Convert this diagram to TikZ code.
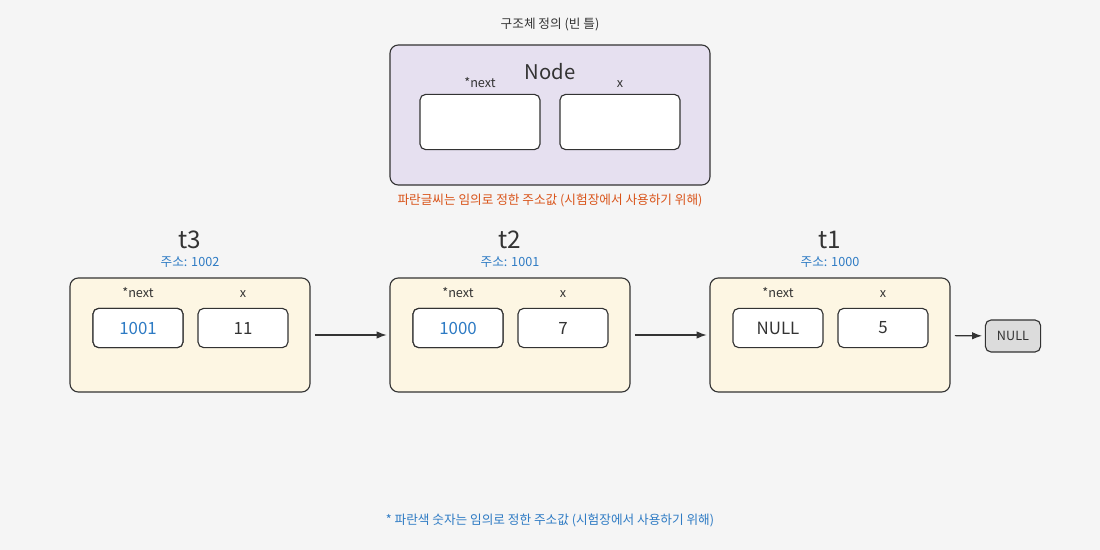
\documentclass[tikz,border=0pt]{standalone}
\usepackage{fontspec}
\setmainfont{Noto Sans CJK KR}
\usetikzlibrary{arrows.meta,positioning}
\definecolor{bgcol}{HTML}{F5F5F5}
\definecolor{defcol}{HTML}{E6E0F0}
\definecolor{listcol}{HTML}{FDF6E3}
\definecolor{addrcol}{HTML}{2E7BC4}
\definecolor{notecol}{HTML}{D9541A}
\definecolor{nullcol}{HTML}{DCDCDC}
\definecolor{linecol}{HTML}{333333}

\begin{document}
\begin{tikzpicture}[x=0.025cm, y=-0.025cm,
  every node/.style={font=\small, text=linecol},
  outer/.style={draw=linecol, line width=0.8pt, rounded corners=6pt, minimum width=6cm, minimum height=2.85cm},
  field/.style={draw=linecol, line width=0.8pt, fill=white, rounded corners=4pt, minimum width=2.25cm, minimum height=0.98cm, font=\large},
  addr/.style={text=addrcol},
  link/.style={-{Latex[length=2.5mm]}, draw=linecol, line width=0.8pt, shorten <=3pt, shorten >=2pt}]
% background
\fill[bgcol] (0,0) rectangle (1100,550);

% definition of the structure
\node (deftitle) at (550,25) {구조체 정의 (빈 틀)};
\node (def) [outer, fill=defcol, minimum width=8cm, minimum height=3.5cm] at (550,115) {};
\node (defname) at (550,72) {\Large Node};
\node (defnext) [field, minimum width=3cm, minimum height=1.38cm] at (480,122) {};
\node (defx)    [field, minimum width=3cm, minimum height=1.38cm] at (620,122) {};
\node [above=1pt of defnext] {*next};
\node [above=1pt of defx] {x};
\node (defnote) [text=notecol] at (550,200) {파란글씨는 임의로 정한 주소값 (시험장에서 사용하기 위해)};

% list nodes
\foreach \name/\cx/\addr/\nxt/\val in {t3/190/1002/1001/11, t2/510/1001/1000/7, t1/830/1000/NULL/5}{
  \node (\name) [outer, fill=listcol] at (\cx,335) {};
  \node (\name-title) at (\cx,240) {\LARGE \name};
  \node (\name-addr) [addr] at (\cx,262) {주소: \addr};
  \node (\name-next) [field] at (\cx-52,328) {\nxt};
  \node (\name-x)    [field] at (\cx+53,328) {\val};
  \node [above=4pt of \name-next] {*next};
  \node [above=4pt of \name-x] {x};
}
\node (t3n) [field, text=addrcol] at (t3-next) {1001};
\node (t2n) [field, text=addrcol] at (t2-next) {1000};

\node (null) [draw=linecol, line width=0.8pt, fill=nullcol, rounded corners=4pt, minimum width=1.38cm, minimum height=0.8cm] at (1013,336) {NULL};

\draw[link] (t3) -- (t2);
\draw[link] (t2) -- (t1);
\draw[link] (t1) -- (null);

\node (note) [addr] at (550,520) {* 파란색 숫자는 임의로 정한 주소값 (시험장에서 사용하기 위해)};
\end{tikzpicture}
\end{document}
